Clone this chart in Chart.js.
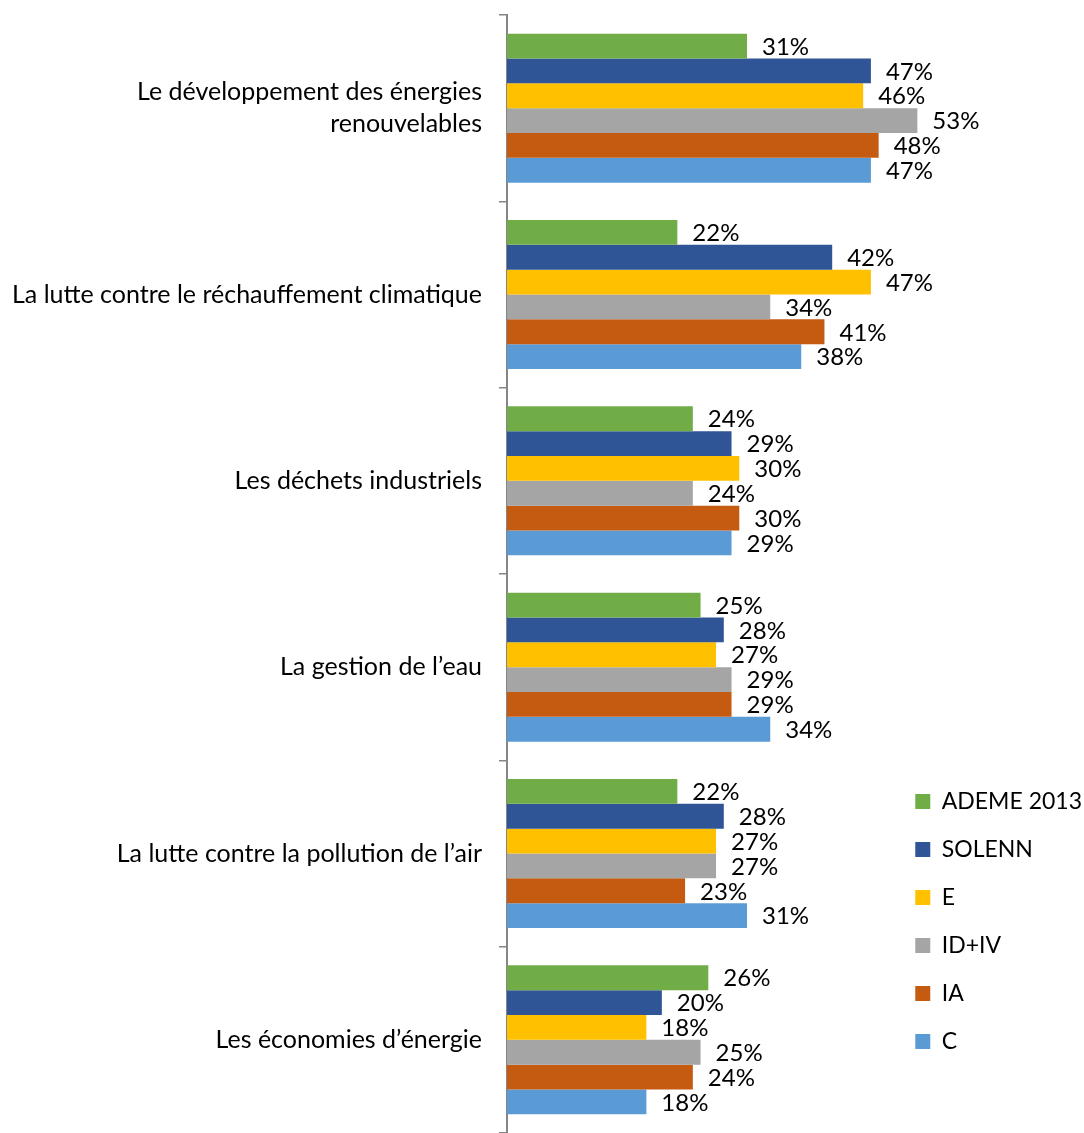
<!DOCTYPE html>
<html>
<head>
<meta charset="utf-8">
<script src="https://cdn.jsdelivr.net/npm/chart.js@4"></script>
<style>
html, body { margin: 0; padding: 0; background: #fff; }
#cadre { width: 1084px; height: 1133px; }
</style>
</head>
<body>
<div id="cadre"><canvas id="graphique"></canvas></div>
<script>
const categories = [
    ['Le développement des énergies', 'renouvelables'],
    'La lutte contre le réchauffement climatique',
    'Les déchets industriels',
    'La gestion de l’eau',
    'La lutte contre la pollution de l’air',
    'Les économies d’énergie'
];
const ademe2013 = [31, 22, 24, 25, 22, 26];
const solenn = [47, 42, 29, 28, 28, 20];
const e = [46, 47, 30, 27, 27, 18];
const idIv = [53, 34, 24, 29, 27, 25];
const ia = [48, 41, 30, 29, 23, 24];
const c = [47, 38, 29, 34, 31, 18];

const police = 'Lato';

// etiquettes de valeur a droite des barres
const etiquettes = {
    id: 'etiquettes',
    afterDatasetsDraw(chart) {
        const ctx = chart.ctx;
        ctx.save();
        ctx.font = '24px ' + police;
        ctx.fillStyle = '#000';
        ctx.textAlign = 'left';
        ctx.textBaseline = 'middle';
        chart.data.datasets.forEach((ds, i) => {
            chart.getDatasetMeta(i).data.forEach((bar, j) => {
                ctx.fillText(ds.data[j] + '%', bar.x + 15, bar.y + 1);
            });
        });
        ctx.restore();
    }
};

// remonte la legende
const legendeBas = {
    id: 'legendeBas',
    afterLayout(chart) {
        chart.legend.bottom -= 55;
    }
};

function serie(label, data, couleur) {
    return {
        label: label,
        data: data,
        backgroundColor: couleur,
        borderWidth: 0,
        categoryPercentage: 0.8,
        barPercentage: 1,
        clip: false
    };
}

const ctx = document.getElementById('graphique').getContext('2d');
const graphique = new Chart(ctx, {
    type: 'bar',
    data: {
        labels: categories,
        datasets: [
            serie('ADEME 2013', ademe2013, '#70AD47'),
            serie('SOLENN', solenn, '#2F5597'),
            serie('E', e, '#FFC000'),
            serie('ID+IV', idIv, '#A5A5A5'),
            serie('IA', ia, '#C55A11'),
            serie('C', c, '#5B9BD5')
        ]
    },
    plugins: [etiquettes, legendeBas],
    options: {
        indexAxis: 'y',
        responsive: true,
        maintainAspectRatio: false,
        animation: false,
        layout: { padding: { top: 15, bottom: 0, right: -8 } },
        plugins: {
            tooltip: { enabled: false },
            legend: {
                position: 'right',
                align: 'end',
                labels: {
                    boxWidth: 15,
                    boxHeight: 15,
                    padding: 25,
                    color: '#000',
                    font: { family: police, size: 23 }
                }
            }
        },
        scales: {
            x: {
                display: false,
                min: 0,
                max: 49.5
            },
            y: {
                border: { display: true, color: '#868686', width: 2 },
                grid: {
                    drawOnChartArea: false,
                    tickLength: 8,
                    color: '#868686',
                    lineWidth: 1.5,
                    offset: true
                },
                ticks: {
                    color: '#000',
                    padding: 17,
                    font: { family: police, size: 25, lineHeight: 1.3 }
                },
                afterFit(scale) {
                    scale.width = 507;
                    scale.paddingTop = 0;
                    scale.paddingBottom = 0;
                }
            }
        }
    }
});
</script>
</body>
</html>
